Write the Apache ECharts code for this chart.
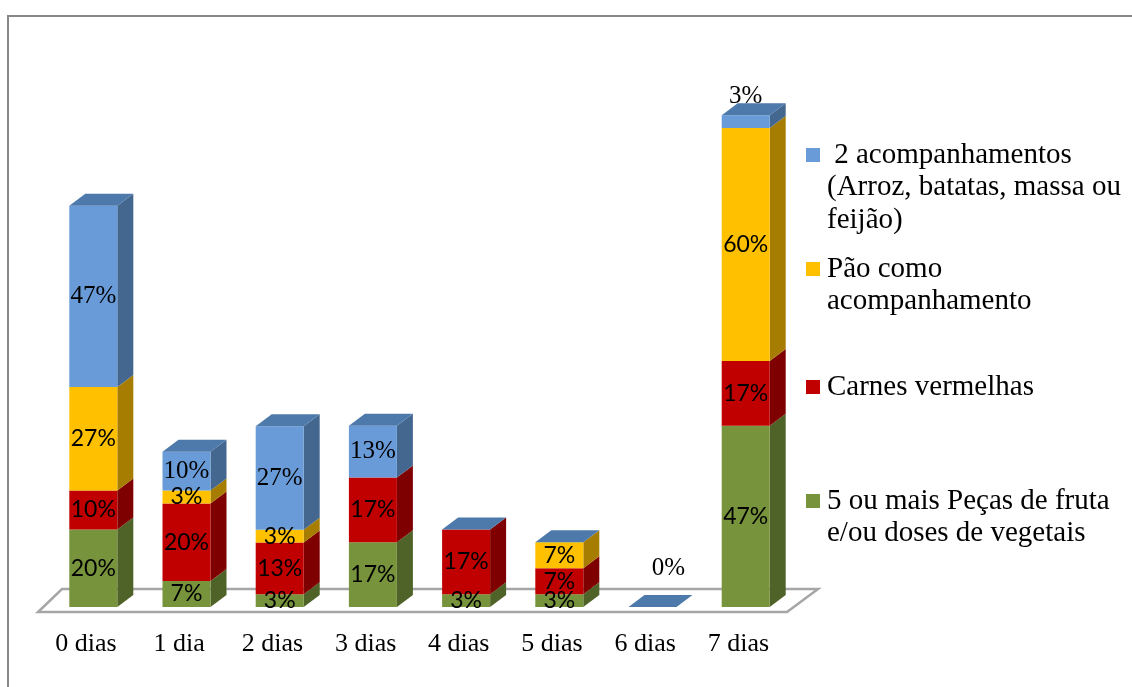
<!DOCTYPE html>
<html><head><meta charset="utf-8">
<script src="https://cdn.jsdelivr.net/npm/echarts@6/dist/echarts.min.js"></script>
<style>html,body{margin:0;padding:0;background:#fff}#chart{width:1132px;height:687px}</style>
</head><body><div id="chart"></div>
<script>
// ---- data ----
const categories = ['0 dias', '1 dia', '2 dias', '3 dias', '4 dias', '5 dias', '6 dias', '7 dias'];
const seriesNames = [
  '5 ou mais Peças de fruta e/ou doses de vegetais',
  'Carnes vermelhas',
  'Pão como acompanhamento',
  ' 2 acompanhamentos (Arroz, batatas, massa ou feijão)'
];
const legendLines = [
  '5 ou mais Peças de fruta\ne/ou doses de vegetais',
  'Carnes vermelhas',
  'Pão como\nacompanhamento',
  ' 2 acompanhamentos\n(Arroz, batatas, massa ou\nfeijão)'
];
const fruitVeg  = [20, 6.7, 3.3, 16.7, 3.3, 3.3, 0, 46.7];
const redMeat   = [10, 20, 13.3, 16.7, 16.7, 6.7, 0, 16.7];
const bread     = [26.7, 3.3, 3.3, 0, 0, 6.7, 0, 60];
const twoSides  = [46.7, 10, 26.7, 13.3, 0, 0, 0, 3.3];

// ---- styles ----
const seriesValues = [fruitVeg, redMeat, bread, twoSides];
const frontColors = ['#77933C', '#C00000', '#FFC000', '#699BD9'];
const sideColors  = ['#4F6228', '#7F0000', '#A67D00', '#44678F'];
const topColor = '#4D79AB';
const labelFamilies = ['Lato', 'Lato', 'Lato', 'Liberation Serif'];
const labelSizes = [23, 23, 23, 25];
const DX = 16, DY = 12;          // 3D depth in px
const OFF = 16.7 / 93.2;         // bar front-left offset from band centre (fraction of band)
const BW = 48 / 93.2;            // bar width (fraction of band)

// build stacked data: [cat, base, top, value, isTopSeries, total]
const totals = categories.map((c, i) => seriesValues.reduce((s, arr) => s + arr[i], 0));
const stacked = seriesValues.map(() => []);
categories.forEach((c, i) => {
  let base = 0;
  seriesValues.forEach((arr, s) => {
    const v = arr[i];
    stacked[s].push([i, base, base + v, v, s === seriesValues.length - 1 ? 1 : 0, totals[i]]);
    base += v;
  });
});

function geom(api) {
  const cat = api.value(0);
  const bw = api.size([1, 0])[0];
  const c0 = api.coord([cat, api.value(1)]);
  const c1 = api.coord([cat, api.value(2)]);
  const xl = c0[0] - bw * OFF;
  const w = bw * BW;
  return { xl, w, xr: xl + w, yb: c0[1], yt: c1[1] };
}

function barRender(s) {
  return function (params, api) {
    const g = geom(api);
    const v = api.value(3);
    const children = [];
    if (v > 0) {
      children.push({ type: 'polygon', shape: { points: [[g.xr, g.yb], [g.xr + DX, g.yb - DY], [g.xr + DX, g.yt - DY], [g.xr, g.yt]] },
        style: { fill: sideColors[s] } });
      children.push({ type: 'rect', shape: { x: g.xl, y: g.yt, width: g.w, height: g.yb - g.yt },
        style: { fill: frontColors[s] } });
    }
    if (api.value(4)) {
      children.push({ type: 'polygon', shape: { points: [[g.xl, g.yt], [g.xl + DX, g.yt - DY], [g.xr + DX, g.yt - DY], [g.xr, g.yt]] },
        style: { fill: topColor } });
    }
    return { type: 'group', children };
  };
}

function labelRender(s) {
  return function (params, api) {
    const g = geom(api);
    const v = api.value(3);
    const total = api.value(5);
    const isTop = api.value(4);
    const txt = Math.round(v) + '%';
    let x = g.xl + g.w / 2, y = (g.yb + g.yt) / 2;
    if (isTop && total === 0) { x += DX; y = g.yt - DY - 27; }
    else if (v <= 0) return null;
    else if (isTop && v < 5) { y = g.yt - DY - 7; }
    return { type: 'text', style: { text: txt, x, y, align: 'center', verticalAlign: 'middle',
      fontFamily: labelFamilies[s], fontSize: labelSizes[s], fill: '#000' } };
  };
}

const series = [];
// floor
series.push({
  type: 'custom', z: 1, silent: true, data: [[0, 0]],
  renderItem: function (params, api) {
    const bw = api.size([1, 0])[0];
    const a = api.coord([0, 0]);
    const b = api.coord([categories.length - 1, 0]);
    const xL = a[0] - bw / 2, xR = b[0] + bw / 2, y0 = a[1];
    return { type: 'polygon', shape: { points: [[xL - 1.4, y0 + 5], [xR + 2, y0 + 5], [xR + 33, y0 - 18], [xL + 22.6, y0 - 18]] },
      style: { fill: '#fff', stroke: '#A6A6A6', lineWidth: 2.5 } };
  }
});
seriesValues.forEach((arr, s) => {
  series.push({ type: 'custom', name: seriesNames[s], z: 2 + s, silent: true, data: stacked[s],
    encode: { x: 0, y: 2 }, renderItem: barRender(s) });
});
seriesValues.forEach((arr, s) => {
  series.push({ type: 'custom', name: seriesNames[s] + ' labels', z: 10, silent: true, data: stacked[s],
    encode: { x: 0, y: 2 }, renderItem: labelRender(s) });
});

// legend drawn as graphics (top to bottom: reverse stacking order)
const legendTops = [484.75, 370.75, 252.75, 138.75];
const graphics = [{ type: 'rect', shape: { x: 8, y: 16, width: 1300, height: 900 }, style: { fill: 'none', stroke: '#888888', lineWidth: 2 }, silent: true }];
seriesValues.forEach((arr, s) => {
  const top = legendTops[s];
  graphics.push({ type: 'rect', shape: { x: 806, y: top + 16.25 - 7, width: 14, height: 14 }, style: { fill: frontColors[s] }, silent: true });
  graphics.push({ type: 'text', x: 827, y: top, style: { text: legendLines[s], fontFamily: 'Liberation Serif', fontSize: 29, lineHeight: 32.5, fill: '#000', verticalAlign: 'top' }, silent: true });
});

const chart = echarts.init(document.getElementById('chart'), null, { renderer: 'canvas' });
chart.setOption({
  animation: false,
  backgroundColor: '#fff',
  grid: { left: 39.4, right: 347, top: 102.5, bottom: 80, containLabel: false, outerBoundsMode: 'none' },
  xAxis: { type: 'category', data: categories, axisLine: { show: false }, axisTick: { show: false }, splitLine: { show: false },
    axisLabel: { fontFamily: 'Liberation Serif', fontSize: 26, color: '#000', margin: 24, interval: 0 } },
  yAxis: { type: 'value', min: 0, max: 130, show: false, splitLine: { show: false } },
  graphic: graphics,
  series
});
</script></body></html>
